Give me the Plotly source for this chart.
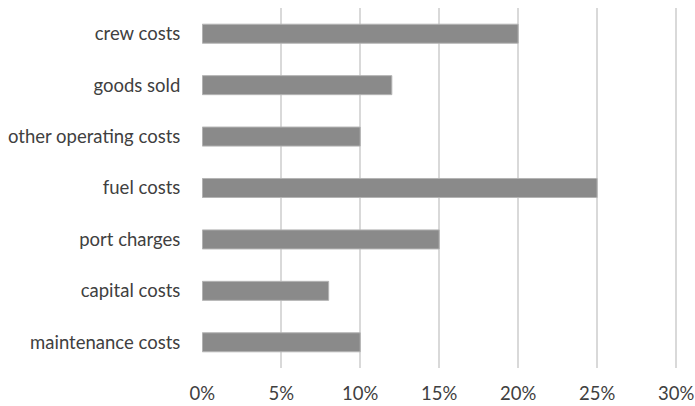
import plotly.graph_objects as go

categories = ["crew costs", "goods sold", "other operating costs", "fuel costs",
              "port charges", "capital costs", "maintenance costs"]
shares = [20, 12, 10, 25, 15, 8, 10]  # percent of total cost
tick_vals = [0, 5, 10, 15, 20, 25, 30]
tick_text = ["0%", "5%", "10%", "15%", "20%", "25%", "30%"]

fig = go.Figure(go.Bar(
    x=shares,
    y=categories,
    orientation="h",
    marker=dict(color="#8a8a8a", line=dict(color="#b4b4b4", width=1)),
    width=0.37,
))

font = dict(family="Lato, 'Open Sans', sans-serif", size=18.5, color="#404040")

fig.update_layout(
    width=695, height=406,
    margin=dict(l=202, r=11, t=8, b=38),
    paper_bgcolor="white", plot_bgcolor="white",
    font=font,
    showlegend=False,
    xaxis=dict(
        range=[-0.02, 30.5], tickvals=tick_vals, ticktext=tick_text,
        showgrid=True, gridcolor="#d9d9d9", gridwidth=1.5,
        zeroline=False, showline=False,
        ticks="outside", ticklen=9, tickcolor="rgba(0,0,0,0)",
        automargin=False, fixedrange=True,
    ),
    yaxis=dict(
        categoryorder="array", categoryarray=categories[::-1],
        showgrid=False, zeroline=False, showline=False,
        ticks="outside", ticklen=17, tickcolor="rgba(0,0,0,0)",
        automargin=False, fixedrange=True,
    ),
)

fig.write_html("out.html")
